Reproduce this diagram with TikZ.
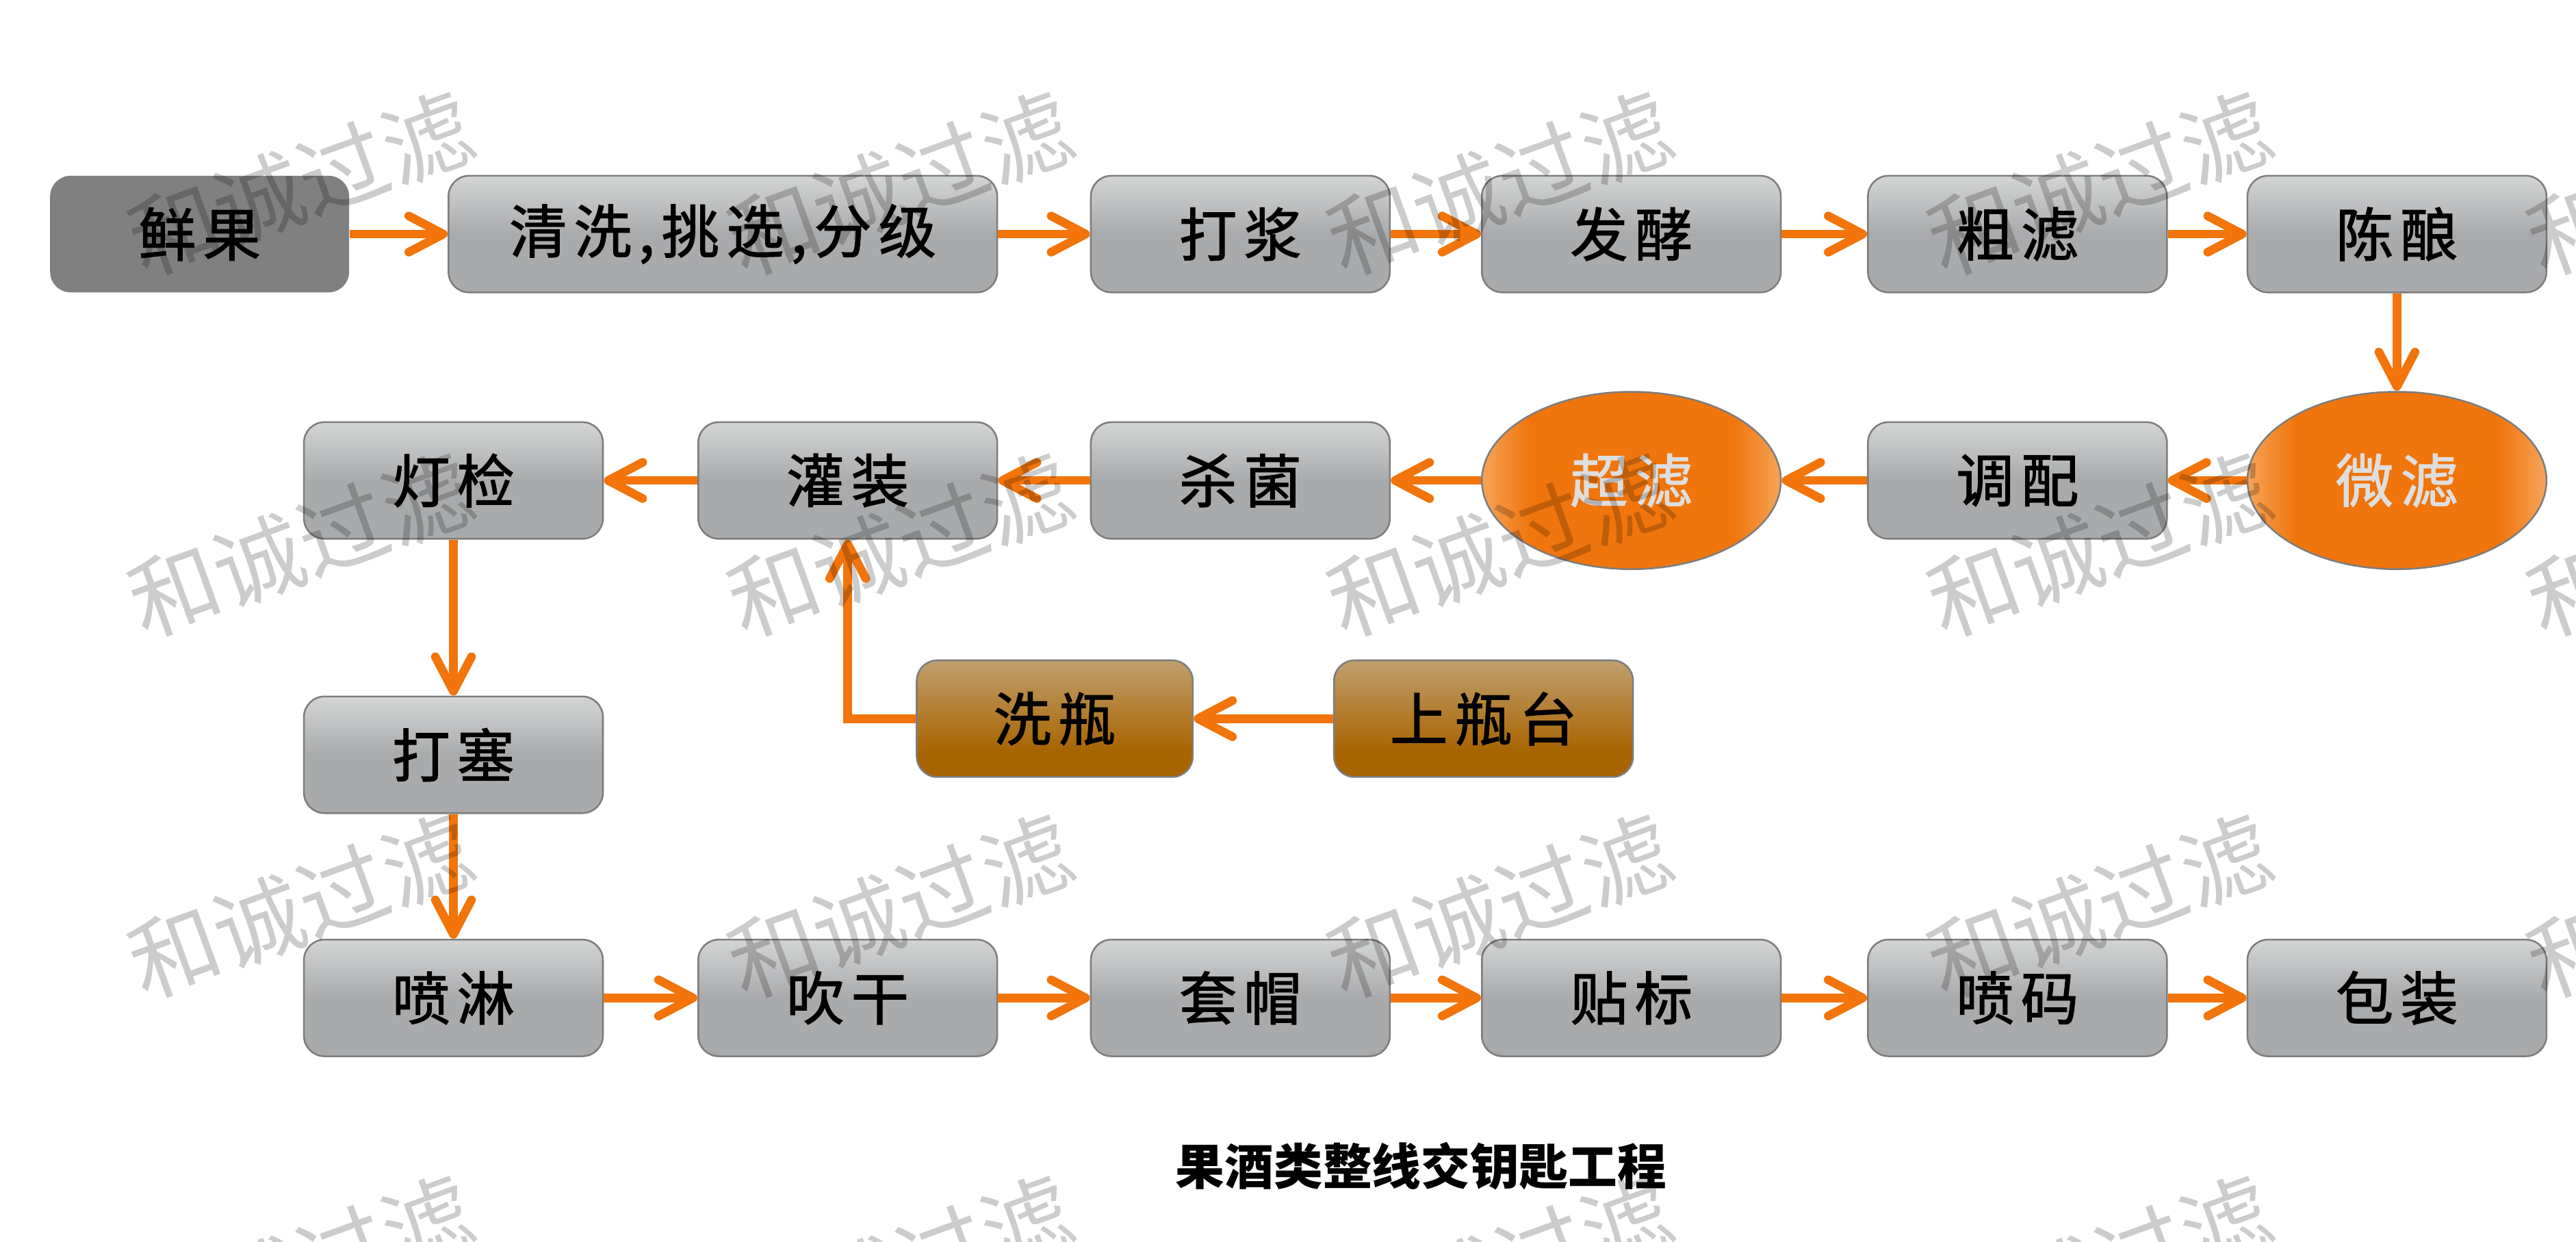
\documentclass[tikz,border=0pt]{standalone}
\usepackage{fontspec}
\setmainfont{Noto Sans CJK SC}
\newfontfamily\kaiti[LetterSpace=12, FakeBold=1.5]{Noto Sans CJK SC}
\usetikzlibrary{arrows.meta, positioning, shapes.geometric}

\definecolor{orangeline}{RGB}{242,116,10}
\definecolor{graytop}{RGB}{211,213,213}
\definecolor{graybot}{RGB}{169,170,172}
\definecolor{browntop}{RGB}{192,160,111}
\definecolor{brownbot}{RGB}{168,100,0}
\definecolor{ovorange}{RGB}{240,117,12}
\definecolor{ovlight}{RGB}{247,164,90}
\definecolor{boxedge}{RGB}{125,125,125}
\definecolor{ovaltext}{RGB}{222,222,222}

\pgfdeclareverticalshading{boxgray}{100bp}{color(0bp)=(graybot); color(25bp)=(graybot); color(50bp)=(graybot); color(75bp)=(graytop); color(100bp)=(graytop)}
\pgfdeclareverticalshading{boxbrown}{100bp}{color(0bp)=(brownbot); color(25bp)=(brownbot); color(36bp)=(brownbot); color(75bp)=(browntop); color(100bp)=(browntop)}
\pgfdeclarehorizontalshading{ovalshade}{100bp}{color(0bp)=(ovlight); color(25bp)=(ovlight); color(33bp)=(ovorange); color(67bp)=(ovorange); color(75bp)=(ovlight); color(100bp)=(ovlight)}

\begin{document}
\begin{tikzpicture}
\tikzstyle{box} = [rectangle, rounded corners=0.25cm, line width=0.6pt, minimum width=3.64cm, minimum height=1.42cm, inner sep=0pt, font=\kaiti\fontsize{20}{24}\selectfont]
\tikzstyle{stage} = [box, draw=boxedge, shading=boxgray]
\tikzstyle{fresh} = [box, fill=black!50]
\tikzstyle{bottle} = [box, draw=boxedge, shading=boxbrown]
\tikzstyle{filter} = [ellipse, draw=boxedge, line width=0.6pt, shading=ovalshade, minimum width=3.64cm, minimum height=2.16cm, inner sep=0pt, text=ovaltext, font=\kaiti\fontsize{20}{24}\selectfont]
\tikzstyle{flowarrow} = [draw=orangeline, line width=3pt, -{Straight Barb[length=4.2mm, width=4.4mm, round]}]
\tikzstyle{watermark} = [text=black, text opacity=0.2, rotate=20, font=\fontsize{31}{36}\selectfont]

\useasboundingbox (0,0) rectangle (31.36,15.12);

% first row
\node[fresh] (xianguo) at (2.43,12.27) {鲜果};
\node[stage, minimum width=6.68cm] (qingxi) at (8.80,12.27) {清洗,挑选,分级};
\node[stage] (dajiang) at (15.10,12.27) {打浆};
\node[stage] (fajiao) at (19.86,12.27) {发酵};
\node[stage] (culv) at (24.56,12.27) {粗滤};
\node[stage] (chenniang) at (29.18,12.27) {陈酿};

% second row, right to left
\node[filter] (weilv) at (29.18,9.27) {微滤};
\node[stage] (tiaopei) at (24.56,9.27) {调配};
\node[filter] (chaolv) at (19.86,9.27) {超滤};
\node[stage] (shajun) at (15.10,9.27) {杀菌};
\node[stage] (guanzhuang) at (10.32,9.27) {灌装};
\node[stage] (dengjian) at (5.52,9.27) {灯检};

% bottles
\node[bottle, minimum width=3.36cm] (xiping) at (12.84,6.37) {洗瓶};
\node[bottle] (shangping) at (18.06,6.37) {上瓶台};
\node[stage] (dasai) at (5.52,5.93) {打塞};

% last row
\node[stage] (penlin) at (5.52,2.97) {喷淋};
\node[stage] (chuigan) at (10.32,2.97) {吹干};
\node[stage] (taomao) at (15.10,2.97) {套帽};
\node[stage] (tiebiao) at (19.86,2.97) {贴标};
\node[stage] (penma) at (24.56,2.97) {喷码};
\node[stage] (baozhuang) at (29.18,2.97) {包装};

\node[font=\bfseries\fontsize{17}{20}\selectfont] (title) at (17.30,0.92) {果酒类整线交钥匙工程};

\foreach \a/\b in {xianguo/qingxi, qingxi/dajiang, dajiang/fajiao, fajiao/culv, culv/chenniang, chenniang/weilv, weilv/tiaopei, tiaopei/chaolv, chaolv/shajun, shajun/guanzhuang, guanzhuang/dengjian, dengjian/dasai, dasai/penlin, penlin/chuigan, chuigan/taomao, taomao/tiebiao, tiebiao/penma, penma/baozhuang, shangping/xiping}
  \draw[flowarrow] (\a) -- (\b);
\draw[flowarrow] (xiping.west) -| (guanzhuang.south);

% watermark
\begin{scope}
\clip (0,0) rectangle (31.36,15.12);
\foreach \x [count=\i] in {3.66,10.96,18.26,25.56,32.86}
  \foreach \y [count=\j] in {12.88,8.48,4.08,-0.32}
    \node[watermark] (mark\i\j) at (\x,\y) {和诚过滤};
\end{scope}
\end{tikzpicture}
\end{document}
